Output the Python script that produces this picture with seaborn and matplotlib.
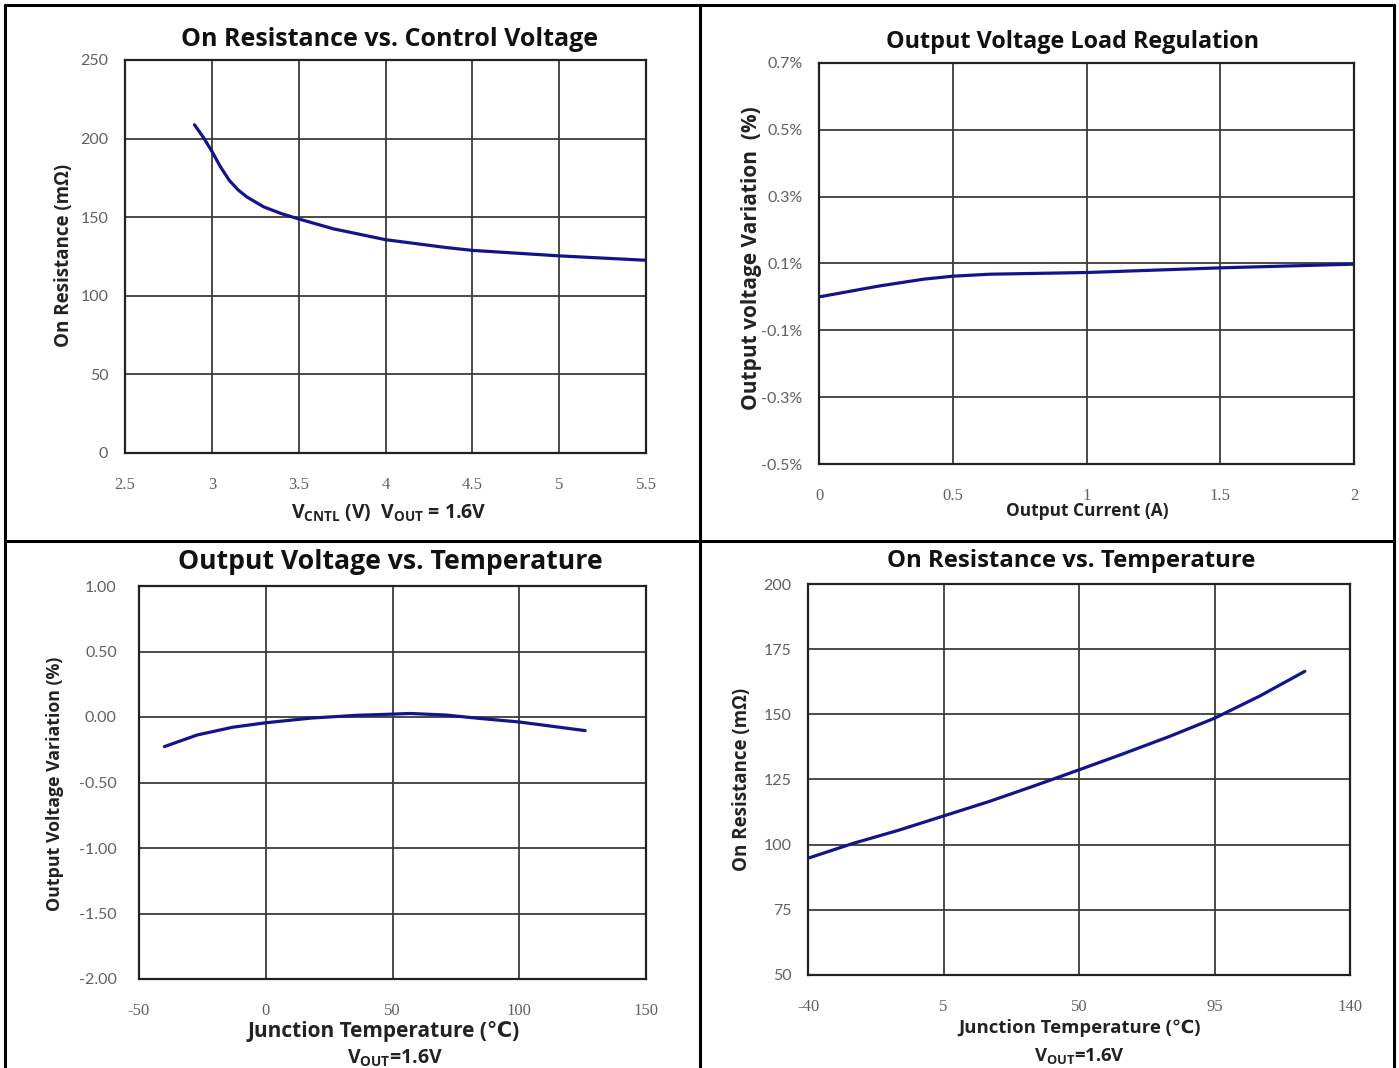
import matplotlib
matplotlib.use("Agg")
import matplotlib.pyplot as plt
import seaborn as sns
import pandas as pd
from matplotlib.lines import Line2D
from matplotlib.ticker import FuncFormatter

# ---------------- data ----------------
vcntl = [2.9, 2.95, 3.0, 3.05, 3.1, 3.15, 3.2, 3.3, 3.4, 3.5, 3.7, 4.0, 4.35, 4.5, 5.0, 5.5]
ron_v = [208.8, 201, 192, 182, 173.5, 167.5, 163, 156.5, 152.3, 148.9, 142.6, 135.7, 130.7, 128.9, 125.4, 122.6]

iout = [0.0, 0.22, 0.39, 0.5, 0.64, 1.0, 1.5, 2.0]
vreg = [0.000, 0.032, 0.053, 0.062, 0.068, 0.073, 0.087, 0.098]

temp3 = [-40, -27, -13, 0, 18, 36, 50, 57, 71, 85, 100, 126]
vtemp = [-0.226, -0.137, -0.078, -0.044, -0.008, 0.013, 0.022, 0.027, 0.015, -0.012, -0.038, -0.104]

temp4 = [-40, -25, -10, 5, 20, 35, 50, 65, 80, 95, 110, 125]
ron_t = [94.8, 100.5, 105.5, 111, 116.5, 122.5, 128.7, 135, 141.5, 148.5, 157, 166.5]

x1_ticks = [2.5, 3, 3.5, 4, 4.5, 5, 5.5]
y1_ticks = [0, 50, 100, 150, 200, 250]
x2_ticks = [0, 0.5, 1, 1.5, 2]
y2_ticks = [-0.5, -0.3, -0.1, 0.1, 0.3, 0.5, 0.7]
x3_ticks = [-50, 0, 50, 100, 150]
y3_ticks = [-2.0, -1.5, -1.0, -0.5, 0.0, 0.5, 1.0]
x4_ticks = [-40, 5, 50, 95, 140]
y4_ticks = [50, 75, 100, 125, 150, 175, 200]

titles = ["On Resistance vs. Control Voltage", "Output Voltage Load Regulation",
          "Output Voltage vs. Temperature", "On Resistance vs. Temperature"]

# ---------------- style ----------------
sns.set_theme(style="white")
plt.rcParams['font.family'] = ['Open Sans', 'DejaVu Sans']
plt.rcParams['mathtext.fontset'] = 'custom'
plt.rcParams['mathtext.rm'] = 'Open Sans'
plt.rcParams['mathtext.bf'] = 'Open Sans:bold'

W, H = 1399, 1068
fig = plt.figure(figsize=(W / 100, H / 100), dpi=100)
fig.patch.set_facecolor('white')

LINE = '#14148a'
GRID = '#3c3c3c'
TICKC = '#606060'
SANS = ['Lato', 'DejaVu Sans']
SERIF = ['Liberation Serif', 'DejaVu Serif']


def px_axes(l, r, t, b):
    return fig.add_axes([l / W, 1 - b / H, (r - l) / W, (b - t) / H])


def ftext(x, y, s, **kw):
    fig.text(x / W, 1 - y / H, s, ha='center', va='center', **kw)


def style(ax, xt, yt, xpad, ypad, yfmt):
    ax.set_xticks(xt)
    ax.set_yticks(yt)
    ax.set_xlim(xt[0], xt[-1])
    ax.set_ylim(yt[0], yt[-1])
    ax.grid(True, color=GRID, linewidth=1.3)
    ax.set_axisbelow(True)
    for s in ax.spines.values():
        s.set_visible(True)
        s.set_color('#222222')
        s.set_linewidth(1.6)
    ax.tick_params(axis='x', length=0, pad=xpad, labelsize=12, labelcolor=TICKC)
    ax.tick_params(axis='y', length=0, pad=ypad, labelsize=11.5, labelcolor=TICKC)
    ax.yaxis.set_major_formatter(yfmt)
    ax.xaxis.set_major_formatter(FuncFormatter(lambda v, p: f"{v:g}"))
    ax.set_xlabel('')
    ax.set_ylabel('')


def draw(ax, xs, ys):
    sns.lineplot(data=pd.DataFrame({'x': xs, 'y': ys}), x='x', y='y', ax=ax,
                 color=LINE, linewidth=2.3)


ax1 = px_axes(125, 646, 60, 453)
draw(ax1, vcntl, ron_v)
style(ax1, x1_ticks, y1_ticks, 17, 12, FuncFormatter(lambda v, p: f"{v:.0f}"))

ax2 = px_axes(819, 1354, 63, 464)
draw(ax2, iout, vreg)
style(ax2, x2_ticks, y2_ticks, 17, 12, FuncFormatter(lambda v, p: f"{v:.1f}%"))

ax3 = px_axes(139, 646, 586, 979)
draw(ax3, temp3, vtemp)
style(ax3, x3_ticks, y3_ticks, 17, 16, FuncFormatter(lambda v, p: f"{v:.2f}"))

ax4 = px_axes(808, 1350, 584, 975)
draw(ax4, temp4, ron_t)
style(ax4, x4_ticks, y4_ticks, 17, 12, FuncFormatter(lambda v, p: f"{v:.0f}"))

for ax in (ax1, ax2, ax3, ax4):
    for lab in ax.get_xticklabels():
        lab.set_family(SERIF)
    for lab in ax.get_yticklabels():
        lab.set_family(SANS)

# titles
TK = dict(fontweight='bold', color='#111111')
ftext(390, 40, titles[0], fontsize=18, **TK)
ftext(1072, 42, titles[1], fontsize=16.8, **TK)
ftext(390, 562, titles[2], fontsize=19.2, **TK)
ftext(1071, 561, titles[3], fontsize=17.2, **TK)

# axis labels
LK = dict(fontweight='bold', color='#222222')
ftext(64, 255, "On Resistance (mΩ)", rotation=90, fontsize=13.5, **LK)
ftext(751, 258, "Output voltage Variation  (%)", rotation=90, fontsize=15, **LK)
ftext(55, 784, "Output Voltage Variation (%)", rotation=90, fontsize=12.8, **LK)
ftext(742, 779, "On Resistance (mΩ)", rotation=90, fontsize=13.5, **LK)

ftext(389, 513, r"$\mathbf{V_{CNTL}}$ (V)  $\mathbf{V_{OUT}}$ = 1.6V", fontsize=14, **LK)
ftext(1087, 511, "Output Current (A)", fontsize=12.5, **LK)
ftext(384, 1031, "Junction Temperature (℃)", fontsize=15, **LK)
ftext(395, 1058, r"$\mathbf{V_{OUT}}$=1.6V", fontsize=14, **LK)
ftext(1080, 1028, "Junction Temperature (℃)", fontsize=13.3, **LK)
ftext(1080, 1056, r"$\mathbf{V_{OUT}}$=1.6V", fontsize=13.3, **LK)

# table borders
def fline(x0, y0, x1, y1):
    fig.add_artist(Line2D([x0 / W, x1 / W], [1 - y0 / H, 1 - y1 / H],
                          color='black', linewidth=2.2, transform=fig.transFigure))

fline(5, 5, 1394, 5)
fline(5, 5, 5, 1068)
fline(1394, 5, 1394, 1068)
fline(700, 5, 700, 1068)
fline(5, 541, 1394, 541)

fig.savefig("out.png", dpi=100, facecolor='white')
